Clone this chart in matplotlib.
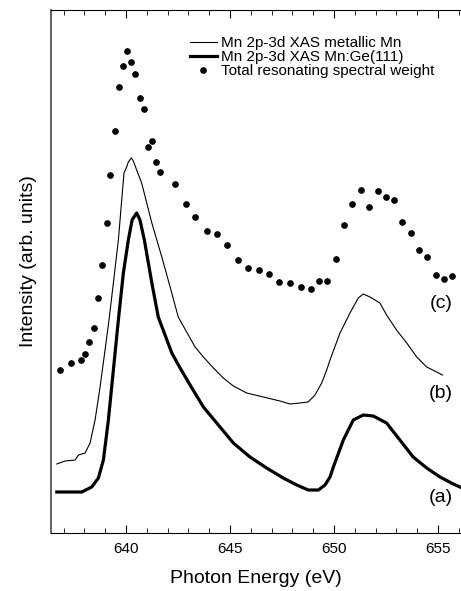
import matplotlib
matplotlib.use("Agg")
import matplotlib.pyplot as plt
from matplotlib.ticker import MultipleLocator

plt.rcParams['font.family'] = ['Liberation Sans', 'DejaVu Sans']

# photon energy (eV) and intensity (arb. units)
# (a) Mn:Ge(111), thick line
energy_a = [636.67, 637.87, 638.35, 638.67, 638.91, 639.15, 639.39, 639.63, 639.87,
            640.11, 640.29, 640.51, 640.67, 640.88, 641.24, 641.55, 642.20, 642.60,
            643.08, 643.72, 644.36, 645.16, 645.96, 646.76, 647.56, 648.21, 648.76,
            649.25, 649.57, 649.81, 649.97, 650.45, 650.93, 651.41, 651.89, 652.53,
            653.17, 653.81, 654.46, 655.10, 655.74, 656.06]
intens_a = [41, 41, 46, 55, 73, 113, 163, 213, 260,
            293, 313, 320, 313, 293, 250, 216, 180, 165,
            148, 126, 110, 90, 76, 65, 55, 48, 43,
            43, 48, 56, 66, 93, 113, 118, 117, 110,
            93, 76, 65, 56, 49, 46]

# (b) metallic Mn, thin line
energy_b = [636.67, 637.07, 637.55, 637.71, 638.03, 638.27, 638.51, 638.75, 638.99,
            639.18, 639.39, 639.63, 639.90, 640.03, 640.11, 640.25, 640.35, 640.51,
            640.75, 641.24, 641.72, 642.12, 642.51, 643.32, 643.72, 644.20, 644.68,
            645.16, 645.80, 646.60, 647.40, 647.88, 648.37, 648.76, 649.09, 649.41,
            649.65, 649.81, 650.29, 650.77, 651.17, 651.41, 651.73, 652.21, 652.53,
            653.01, 653.50, 653.98, 654.46, 654.94, 655.22]
intens_b = [69, 72, 73, 78, 80, 90, 113, 146, 183,
            213, 250, 293, 360, 366, 371, 375, 372, 363,
            350, 310, 276, 246, 216, 186, 176, 165, 155,
            147, 140, 136, 132, 129, 130, 131, 138, 150,
            163, 173, 200, 220, 235, 239, 236, 230, 218,
            203, 190, 176, 166, 161, 158]

# (c) total resonating spectral weight, dots
energy_c = [636.84, 637.34, 637.84, 638.04, 638.24, 638.45, 638.64, 638.86, 639.06,
            639.25, 639.46, 639.65, 639.84, 640.06, 640.25, 640.45, 640.67, 640.86,
            641.06, 641.25, 641.46, 641.65, 642.37, 642.87, 643.34, 643.88, 644.38,
            644.87, 645.37, 645.86, 646.38, 646.88, 647.37, 647.87, 648.40, 648.88,
            649.26, 649.65, 650.08, 650.48, 650.88, 651.30, 651.70, 652.10, 652.49,
            652.88, 653.28, 653.69, 654.09, 654.49, 654.90, 655.29, 655.69]
intens_c = [163, 170, 173, 179, 191, 205, 235, 268, 310,
            358, 402, 446, 467, 482, 471, 459, 435, 424,
            386, 392, 371, 361, 349, 329, 316, 302, 299,
            288, 273, 265, 263, 259, 251, 250, 246, 244,
            252, 252, 274, 308, 329, 343, 326, 342, 336,
            333, 311, 300, 283, 276, 258, 254, 257]

curve_tags = ["(a)", "(b)", "(c)"]
tag_energy = [655.14, 655.14, 655.14]
tag_intens = [35, 139, 230]

fig = plt.figure(figsize=(4.61, 5.91), dpi=100)
ax = fig.add_axes([51 / 461, 1 - 533 / 591, 1 - 51 / 461, (533 - 10) / 591])

ax.plot(energy_b, intens_b, color="black", linewidth=0.8,
        label="Mn 2p-3d XAS metallic Mn")
ax.plot(energy_a, intens_a, color="black", linewidth=2.3,
        label="Mn 2p-3d XAS Mn:Ge(111)")
ax.plot(energy_c, intens_c, linestyle="none", marker="o", markersize=3.8,
        color="black", label="Total resonating spectral weight")

for tag, xe, yi in zip(curve_tags, tag_energy, tag_intens):
    ax.text(xe, yi, tag, fontsize=14, ha="center", va="center")

ax.set_xlim(636.39, 656.11)
ax.set_ylim(0, 523)

ax.xaxis.set_major_locator(MultipleLocator(5))
ax.xaxis.set_minor_locator(MultipleLocator(1))
ax.tick_params(axis="x", which="both", direction="in", top=True, labelsize=11, pad=6.5)
ax.tick_params(axis="x", which="major", length=6)
ax.tick_params(axis="x", which="minor", length=3.5)
ax.set_yticks([])

ax.spines["right"].set_visible(False)
ax.spines["left"].set_color("#555555")
ax.spines["left"].set_linewidth(1.3)

ax.set_xlabel("Photon Energy (eV)", fontsize=14, labelpad=10)
ax.set_ylabel("Intensity (arb. units)", fontsize=14, labelpad=10)
ax.yaxis.label.set_position((0, 0.52))

fig.legend(loc="upper left", bbox_to_anchor=(190 / 461, 1 - 36 / 591),
           frameon=False, fontsize=11, handlelength=1.75, handletextpad=0.25,
           labelspacing=0.0, borderpad=0, borderaxespad=0)

fig.savefig("out.png", dpi=100)
